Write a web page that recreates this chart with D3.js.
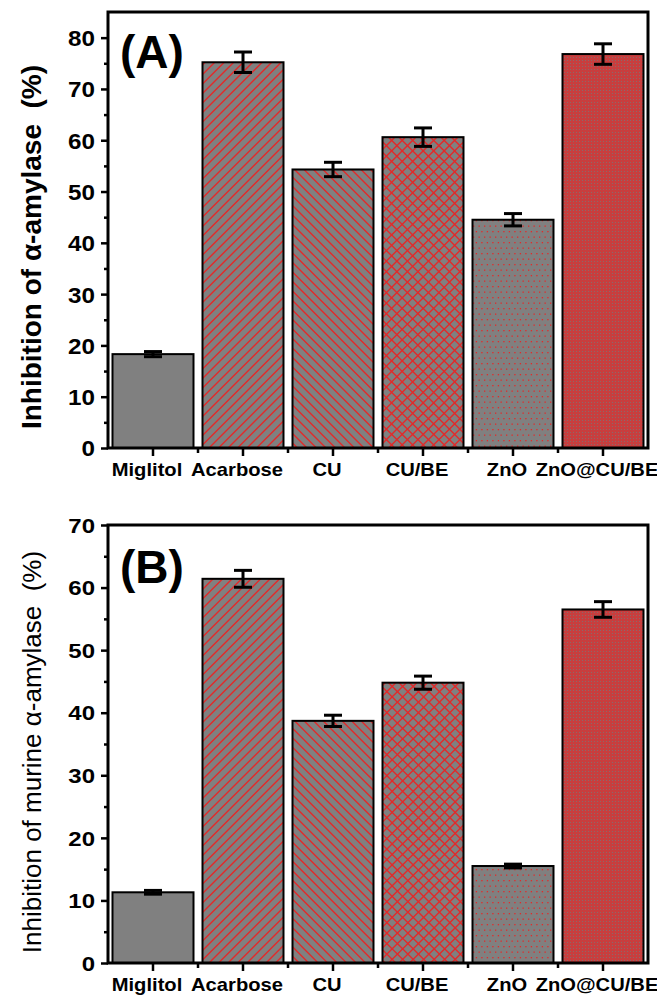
<!DOCTYPE html>
<html><head><meta charset="utf-8">
<script src="https://cdn.jsdelivr.net/npm/d3@7"></script>
<style>body{margin:0;background:#fff}text{font-family:"Liberation Sans",Arial,sans-serif}</style>
</head><body><svg id="c" width="657" height="996"></svg>
<script>
const categories = ["Miglitol","Acarbose","CU","CU/BE","ZnO","ZnO@CU/BE"];
const valuesA = [18.3, 75.2, 54.3, 60.6, 44.5, 76.8];
const errorsA = [0.5, 2.0, 1.4, 1.8, 1.2, 2.0];
const valuesB = [11.3, 61.4, 38.7, 44.8, 15.5, 56.5];
const errorsB = [0.3, 1.35, 0.9, 1.05, 0.3, 1.25];
const ticksA = [0,10,20,30,40,50,60,70,80];
const ticksB = [0,10,20,30,40,50,60,70];
const hatchKinds = ["none","fwd","back","cross","dots","dense"];

const svg = d3.select("#c");
const defs = svg.append("defs");
const GRAY = "#808080", RED = "#e22a2a";
let clipN = 0;

defs.append("pattern").attr("id","dense").attr("patternUnits","userSpaceOnUse").attr("width",3).attr("height",3)
  .call(p => {
    p.append("rect").attr("width",3).attr("height",3).attr("fill","#c83e3e");
    p.append("rect").attr("width",1).attr("height",1).attr("fill","#8a6a6a");
  });

function hatch(g, kind, x0, y0, w, h){
  if (kind === "none") return;
  const id = "clip" + (clipN++);
  defs.append("clipPath").attr("id", id).append("rect").attr("x", x0).attr("y", y0).attr("width", w).attr("height", h);
  const hg = g.append("g").attr("clip-path", `url(#${id})`);
  if (kind === "dense") {
    hg.append("rect").attr("x", x0).attr("y", y0).attr("width", w).attr("height", h).attr("fill","url(#dense)");
    return;
  }
  if (kind === "dots") {
    const sp = 5.5;
    const cols = d3.range(Math.floor(x0/sp)*sp, x0 + w + sp, sp);
    const rows = d3.range(Math.floor(y0/sp)*sp, y0 + h + sp, sp);
    rows.forEach((yy, ri) => cols.forEach(xx => {
      hg.append("rect").attr("x", xx + (ri % 2 ? sp/2 : 0)).attr("y", yy).attr("width", 1.3).attr("height", 1.3).attr("fill", RED);
    }));
    return;
  }
  const sp = kind === "cross" ? 10.5 : 9.5;
  const lines = [];
  const start = Math.floor((x0 - h - sp) / sp) * sp;
  for (let c = start; c < x0 + w + h + sp; c += sp) {
    if (kind === "fwd" || kind === "cross") lines.push([c, y0 + h, c + h, y0]);
    if (kind === "back" || kind === "cross") lines.push([c, y0, c + h, y0 + h]);
  }
  hg.selectAll("line").data(lines).join("line")
    .attr("x1", d => d[0]).attr("y1", d => d[1]).attr("x2", d => d[2]).attr("y2", d => d[3])
    .attr("stroke", RED).attr("stroke-width", 1.4);
}

function panel(cfg){
  const g = svg.append("g");
  const x = d3.scaleBand().domain(categories).range([108, 648]).paddingInner(0.1).paddingOuter(0.05);
  const y = d3.scaleLinear().domain([0, cfg.yMax]).range([cfg.bottom, cfg.top]);

  categories.forEach((c, i) => {
    const bx = x(c), by = y(cfg.values[i]), bw = x.bandwidth(), bh = y(0) - y(cfg.values[i]);
    g.append("rect").attr("x", bx).attr("y", by).attr("width", bw).attr("height", bh).attr("fill", GRAY);
    hatch(g, hatchKinds[i], bx, by, bw, bh);
    g.append("rect").attr("x", bx).attr("y", by).attr("width", bw).attr("height", bh)
      .attr("fill","none").attr("stroke","#000").attr("stroke-width", 2);
  });

  const eb = g.selectAll("g.eb").data(categories).join("g").attr("class","eb")
    .attr("transform", c => `translate(${x(c) + x.bandwidth()/2},0)`);
  eb.append("line").attr("y1", (c,i) => y(cfg.values[i] - cfg.errors[i]))
    .attr("y2", (c,i) => y(cfg.values[i] + cfg.errors[i]))
    .attr("stroke","#000").attr("stroke-width", 3);
  [1,-1].forEach(s => eb.append("line").attr("x1",-9).attr("x2",9)
    .attr("y1", (c,i) => y(cfg.values[i] + s*cfg.errors[i]))
    .attr("y2", (c,i) => y(cfg.values[i] + s*cfg.errors[i]))
    .attr("stroke","#000").attr("stroke-width", 3));

  g.append("rect").attr("x",108).attr("y",cfg.top).attr("width",540).attr("height",cfg.bottom-cfg.top)
    .attr("fill","none").attr("stroke","#000").attr("stroke-width",3);

  const ya = g.append("g").attr("transform","translate(108,0)")
    .call(d3.axisLeft(y).tickValues(cfg.ticks).tickSize(7).tickSizeOuter(0).tickFormat(d3.format("d")));
  ya.select(".domain").remove();
  ya.selectAll(".tick line").attr("stroke-width", 2.5);
  ya.selectAll(".tick text").attr("x", 0).attr("dy","0.36em").attr("text-anchor","end")
    .attr("transform", `translate(-13,0) scale(${cfg.tickSx},1)`)
    .style("font-size", cfg.tickFont + "px").style("font-weight","bold").attr("fill","#000");
  const ym = g.append("g").attr("transform","translate(108,0)")
    .call(d3.axisLeft(y).tickValues(cfg.ticks.slice(0,-1).map(t => t + 5).filter(t => t < cfg.yMax)).tickSize(4).tickFormat(""));
  ym.select(".domain").remove();
  ym.selectAll(".tick line").attr("stroke-width", 2.5);

  const xa = g.append("g").attr("transform",`translate(0,${cfg.bottom})`)
    .call(d3.axisBottom(x).tickSize(8).tickSizeOuter(0));
  xa.select(".domain").remove();
  xa.selectAll(".tick line").attr("stroke-width", 2.5);
  xa.selectAll(".tick text").attr("y", 0).attr("dy", 0)
    .attr("transform", `translate(-6,28) scale(1.12,1)`)
    .style("font-size","18px").style("font-weight","bold").attr("fill","#000");
  g.selectAll("line.xm").data(categories.slice(1)).join("line").attr("class","xm")
    .attr("x1", c => x(c) - x.step()*x.paddingInner()/2).attr("x2", c => x(c) - x.step()*x.paddingInner()/2)
    .attr("y1", cfg.bottom).attr("y2", cfg.bottom + 5).attr("stroke","#000").attr("stroke-width",2.5);

  g.append("text").attr("x",120).attr("y",cfg.letterY).text(cfg.letter)
    .style("font-size","46px").style("font-weight","bold");
  g.append("text").attr("transform",`translate(41,${cfg.labelY}) rotate(-90)`).attr("text-anchor","middle")
    .style("font-size", cfg.labelFont + "px").style("font-weight", cfg.labelWeight)
    .text(cfg.label);
}

panel({values: valuesA, errors: errorsA, yMax: 85, ticks: ticksA, top: 12, bottom: 448,
  tickFont: 22, tickSx: 1.1, letter: "(A)", letterY: 68,
  label: "Inhibition of \u03b1-amylase\u00a0\u00a0(%)", labelY: 247, labelFont: 28, labelWeight: "bold"});
panel({values: valuesB, errors: errorsB, yMax: 70, ticks: ticksB, top: 525, bottom: 963,
  tickFont: 20, tickSx: 1.2, letter: "(B)", letterY: 583,
  label: "Inhibition of murine \u03b1-amylase\u00a0\u00a0(%)", labelY: 752, labelFont: 26, labelWeight: "normal"});
</script></body></html>
